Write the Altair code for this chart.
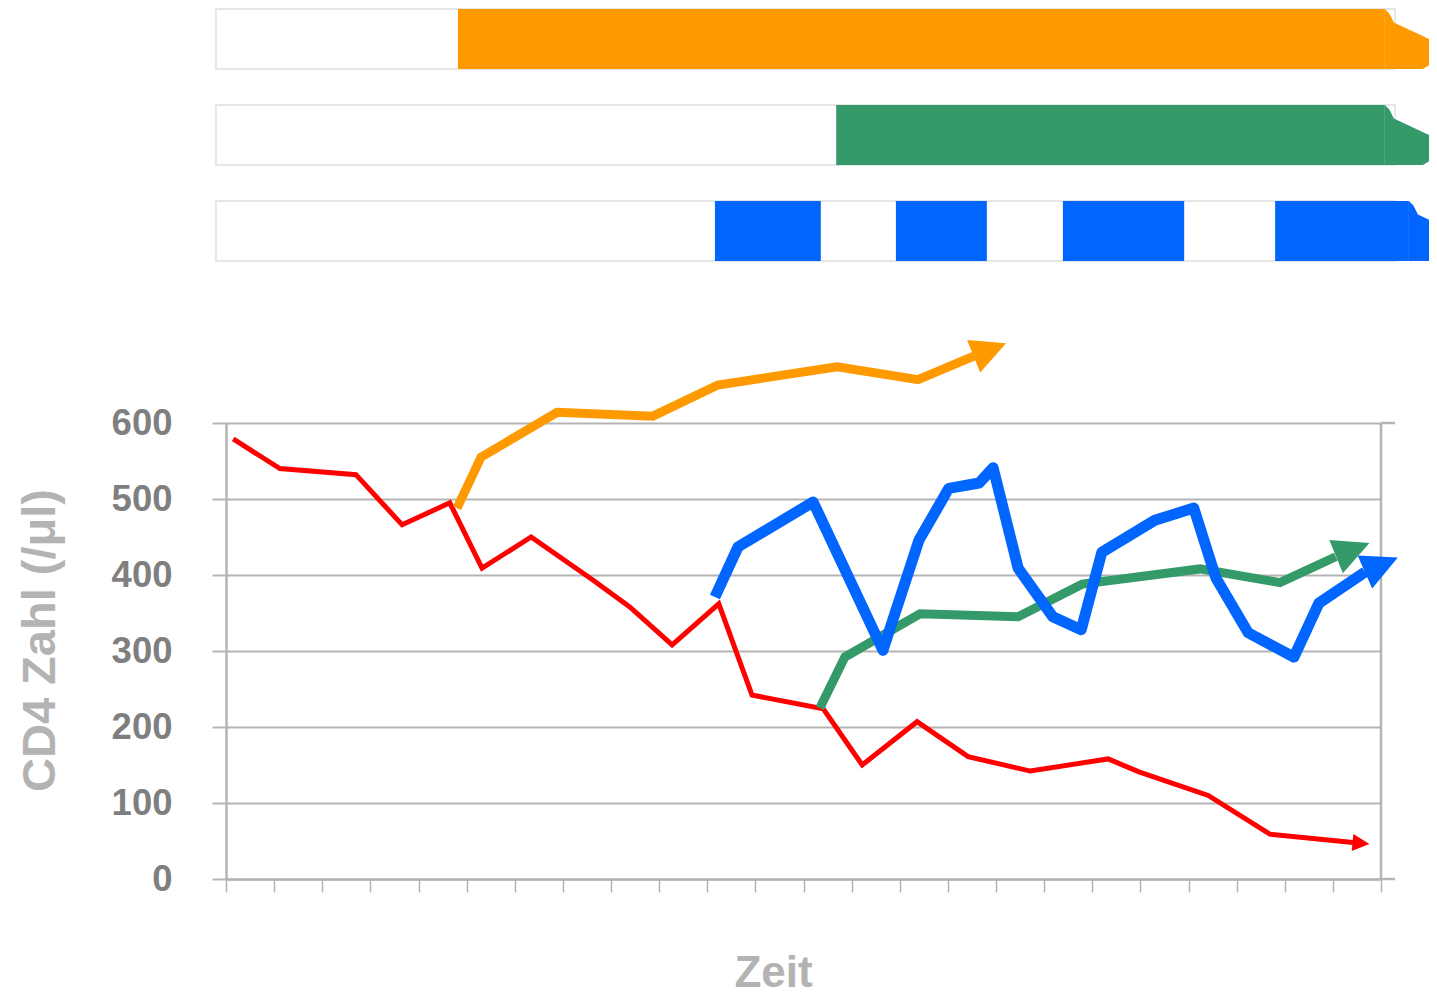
import math
import altair as alt
import pandas as pd

# ---------------- data ----------------
# x: time in 24 equal (unlabelled) intervals, y: CD4 cells per µl
red_x = [0.15, 1.12, 2.70, 3.66, 4.65, 5.32, 6.34, 7.63, 8.39, 9.27, 10.24, 10.93,
         12.41, 13.22, 14.36, 15.42, 16.71, 18.33, 18.97, 20.41, 21.69, 23.42]
red_y = [579, 540, 532, 466, 495, 409, 450, 393, 358, 308, 362, 242,
         224, 150, 207, 161, 142, 158, 141, 110, 59, 48]
red_tip = [23.76, 46]

orange_x = [4.80, 5.30, 6.88, 8.87, 10.22, 12.70, 14.38, 15.54]
orange_y = [488, 555, 614, 609, 650, 674, 657, 688]
orange_tip = [16.21, 705]

green_x = [12.34, 12.86, 14.42, 16.46, 17.79, 20.24, 21.90, 23.06]
green_y = [225, 292, 349, 345, 388, 408, 390, 424]
green_tip = [23.76, 442]

blue_x = [10.16, 10.64, 12.20, 13.65, 14.40, 15.02, 15.65, 15.94, 16.46, 17.18,
          17.77, 18.20, 19.30, 20.11, 20.57, 21.24, 22.19, 22.71, 23.67]
blue_y = [371, 437, 496, 301, 446, 514, 521, 541, 409, 345,
          328, 430, 472, 488, 396, 324, 292, 363, 404]
blue_tip = [24.35, 423]

# treatment timelines at the top
rows = ["orange", "green", "blue"]
timeline_start = [-0.21, -0.21, -0.21]
timeline_end = [24.29, 24.29, 24.29]
seg_row = ["orange", "green", "blue", "blue", "blue", "blue"]
seg_start = [4.82, 12.68, 10.16, 13.92, 17.39, 21.80]
seg_end = [24.08, 24.08, 12.36, 15.81, 19.91, 24.58]

y_ticks = [0, 100, 200, 300, 400, 500, 600]
x_ticks = list(range(0, 25))

# ---------------- style ----------------
RED, ORANGE, GREEN, BLUE = "#ff0000", "#ff9900", "#359a6a", "#0066ff"
row_colors = [ORANGE, GREEN, BLUE]
GRID = "#b4b4b4"
FONT = "Liberation Sans"

X_MIN, X_MAX = 0, 24
Y_MIN, Y_MAX = 0, 600
W = 1155           # plot width
H = 870            # plot height (timelines + line chart)
Y_TOP = 414        # pixel position of the 600 gridline
BAND_RANGE = [0, 252]
PX_X = W / (X_MAX - X_MIN)
PX_Y = (H - Y_TOP) / (Y_MAX - Y_MIN)
EXT = 14 / PX_X

xs = alt.Scale(domain=[X_MIN, X_MAX], nice=False, zero=False)
ys = alt.Scale(domain=[Y_MIN, Y_MAX], range=[H, Y_TOP], nice=False, zero=False)
bs = alt.Scale(domain=rows, range=BAND_RANGE, paddingInner=0.375, paddingOuter=0)

x_axis = alt.Axis(values=x_ticks, labels=False, grid=False, ticks=True, tickSize=13,
                  tickColor=GRID, tickWidth=1.5, domainColor=GRID, domainWidth=2.5,
                  title="Zeit", titleFont=FONT, titleFontSize=44, titleFontWeight="bold",
                  titleColor="#b3b3b3", titleX=547, titleY=107, titleAlign="center",
                  titleBaseline="alphabetic")
y_axis = alt.Axis(values=y_ticks, orient="left", grid=True, gridColor=GRID, gridWidth=2,
                  domainColor=GRID, domainWidth=2.5, tickColor=GRID, tickWidth=2, tickSize=14,
                  labelFont=FONT, labelFontSize=36.5, labelFontWeight="bold", labelColor="#7f7f7f",
                  labelPadding=40, labelOverlap=False, labelFlush=False,
                  title="CD4 Zahl (/μl)", titleFont=FONT, titleFontSize=47,
                  titleFontWeight="bold", titleColor="#b3b3b3", titleAngle=270,
                  titleX=-186, titleY=631, titleAlign="center", titleBaseline="middle")

# ---------------- timelines ----------------
box_df = pd.DataFrame({"row": rows, "start": timeline_start, "end": timeline_end})
seg_df = pd.DataFrame({"row": seg_row, "start": seg_start, "end": seg_end})
end_df = seg_df.groupby("row", as_index=False)["end"].max()

row_color = alt.Color("row:N", scale=alt.Scale(domain=rows, range=row_colors), legend=None)

boxes = alt.Chart(box_df).mark_rect(fill="white", stroke="#e6e6e6", strokeWidth=2).encode(
    x=alt.X("start:Q", scale=xs, axis=x_axis), x2="end:Q",
    y=alt.Y("row:N", scale=bs, axis=None))
segs = alt.Chart(seg_df).mark_rect(strokeWidth=0).encode(
    x=alt.X("start:Q", scale=xs, axis=x_axis), x2="end:Q",
    y=alt.Y("row:N", scale=bs, axis=None), color=row_color)
END_PATH = "M0,-1L0.15,-0.85L0.3,-0.55L1.75,0.13L1.9,0.4L1.75,0.7L1.27,1L0,1Z"
ends = alt.Chart(end_df).mark_point(shape=END_PATH, filled=True, opacity=1, size=3600,
                                    strokeWidth=0).encode(
    x=alt.X("end:Q", scale=xs, axis=x_axis),
    y=alt.Y("row:N", scale=bs, axis=None), color=row_color)

timelines = alt.layer(boxes, segs, ends)

# ---------------- lines ----------------
frame_df = pd.DataFrame({
    "x": [X_MAX, X_MAX, X_MAX],
    "x2": [X_MAX, X_MAX + EXT, X_MAX + EXT],
    "y": [Y_MIN, Y_MIN, Y_MAX],
    "y2": [Y_MAX, Y_MIN, Y_MAX],
})
frame = alt.Chart(frame_df).mark_rule(color=GRID, strokeWidth=2.5).encode(
    x=alt.X("x:Q", scale=xs, axis=x_axis), x2="x2:Q",
    y=alt.Y("y:Q", scale=ys, axis=y_axis), y2="y2:Q")

ARROW = "M0,0L-2,-1L-2,1Z"


def series_layers(xv, yv, tip, color, width, join, head):
    df = pd.DataFrame({"x": xv, "y": yv, "o": list(range(len(xv)))})
    bx, by = xv[-1], yv[-1]
    ang = math.degrees(math.atan2(-(tip[1] - by) * PX_Y, (tip[0] - bx) * PX_X)) % 360
    tdf = pd.DataFrame({"x": [tip[0]], "y": [tip[1]], "angle": [ang]})
    line = alt.Chart(df).mark_line(color=color, strokeWidth=width, strokeJoin=join,
                                   strokeCap="butt").encode(
        x=alt.X("x:Q", scale=xs, axis=x_axis), y=alt.Y("y:Q", scale=ys, axis=y_axis),
        order="o:Q")
    arrow = alt.Chart(tdf).mark_point(shape=ARROW, filled=True, opacity=1, color=color,
                                      size=head * head, strokeWidth=0).encode(
        x=alt.X("x:Q", scale=xs, axis=x_axis), y=alt.Y("y:Q", scale=ys, axis=y_axis),
        angle=alt.Angle("angle:Q", scale=None))
    return [line, arrow]


line_layers = [frame]
line_layers += series_layers(red_x, red_y, red_tip, RED, 5, "miter", 17)
line_layers += series_layers(orange_x, orange_y, orange_tip, ORANGE, 9, "miter", 35)
line_layers += series_layers(green_x, green_y, green_tip, GREEN, 9, "miter", 36)
line_layers += series_layers(blue_x, blue_y, blue_tip, BLUE, 11, "round", 36)
lines = alt.layer(*line_layers)

chart = alt.layer(timelines, lines).resolve_scale(y="independent").properties(
    width=W, height=H,
    padding={"left": 218, "top": 1, "right": 48, "bottom": 116},
    autosize=alt.AutoSizeParams(type="none"),
    background="white",
).configure_view(stroke=None)

chart.save("out.html", embed_options={"renderer": "svg", "actions": False})
